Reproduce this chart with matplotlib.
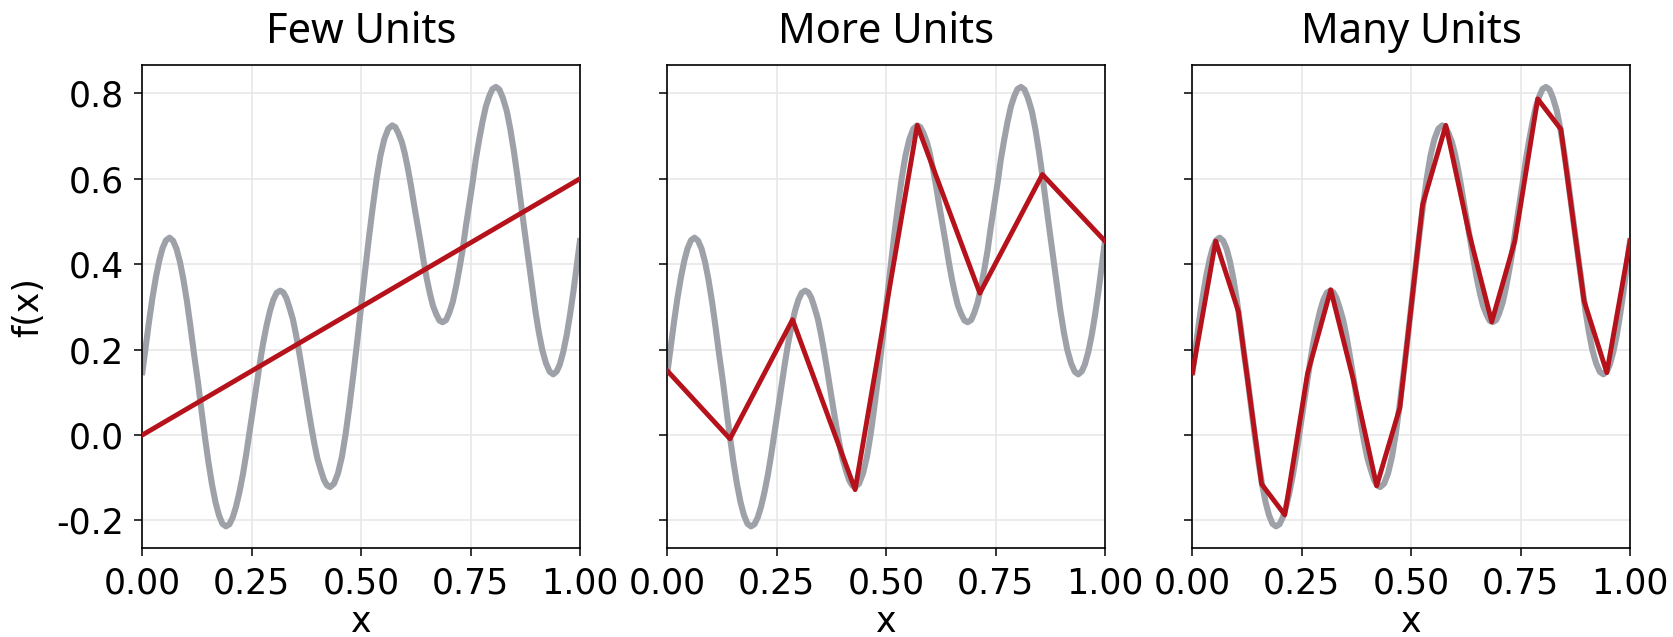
import matplotlib
matplotlib.use('Agg')
import matplotlib.pyplot as plt

plt.rcParams['axes.unicode_minus'] = False
plt.rcParams['font.family'] = 'DejaVu Sans'

# target function, sampled along x
x_true = [0.0, 0.008, 0.015, 0.023, 0.031, 0.039, 0.046, 0.054, 0.062,
          0.070, 0.078, 0.086, 0.094, 0.102, 0.110, 0.118, 0.127,
          0.135, 0.143, 0.151, 0.159, 0.167, 0.175, 0.183, 0.191,
          0.199, 0.2065, 0.214, 0.222, 0.230, 0.2375, 0.245, 0.253,
          0.261, 0.2685, 0.276, 0.284, 0.292, 0.2995, 0.307, 0.315,
          0.322, 0.329, 0.336, 0.344, 0.351, 0.358, 0.365, 0.372,
          0.379, 0.386, 0.393, 0.400, 0.408, 0.415, 0.422, 0.429,
          0.438, 0.447, 0.456, 0.4645, 0.473, 0.482, 0.491, 0.500,
          0.509, 0.518, 0.527, 0.5355, 0.544, 0.553, 0.562, 0.571,
          0.578, 0.585, 0.593, 0.600, 0.607, 0.614, 0.621, 0.6285,
          0.636, 0.643, 0.650, 0.657, 0.664, 0.672, 0.679, 0.686,
          0.694, 0.701, 0.709, 0.7165, 0.724, 0.732, 0.739, 0.747,
          0.755, 0.762, 0.770, 0.7775, 0.785, 0.793, 0.800, 0.808,
          0.816, 0.824, 0.833, 0.841, 0.849, 0.857, 0.865, 0.8735,
          0.882, 0.890, 0.898, 0.906, 0.914, 0.9225, 0.931, 0.939,
          0.947, 0.954, 0.962, 0.970, 0.977, 0.985, 0.992, 1.0]
y_true = [0.147, 0.210, 0.264, 0.321, 0.370, 0.410, 0.437, 0.456, 0.462,
          0.455, 0.436, 0.405, 0.363, 0.312, 0.253, 0.190, 0.124,
          0.058, -0.005, -0.064, -0.115, -0.157, -0.188, -0.208, -0.214,
          -0.209, -0.193, -0.168, -0.133, -0.091, -0.044, 0.008, 0.062,
          0.116, 0.168, 0.215, 0.257, 0.292, 0.317, 0.333, 0.338,
          0.334, 0.321, 0.299, 0.271, 0.236, 0.196, 0.153, 0.108,
          0.063, 0.020, -0.020, -0.055, -0.083, -0.105, -0.118, -0.122,
          -0.114, -0.090, -0.051, 0.002, 0.066, 0.140, 0.219, 0.302,
          0.384, 0.464, 0.537, 0.601, 0.654, 0.693, 0.717, 0.725,
          0.721, 0.707, 0.686, 0.658, 0.623, 0.583, 0.539, 0.495,
          0.450, 0.406, 0.366, 0.332, 0.303, 0.282, 0.268, 0.264,
          0.269, 0.285, 0.310, 0.345, 0.386, 0.434, 0.486, 0.540,
          0.593, 0.645, 0.693, 0.734, 0.769, 0.794, 0.810, 0.815,
          0.809, 0.789, 0.758, 0.716, 0.665, 0.607, 0.544, 0.478,
          0.413, 0.350, 0.292, 0.241, 0.199, 0.168, 0.148, 0.142,
          0.149, 0.165, 0.195, 0.235, 0.279, 0.335, 0.390, 0.454]

# piecewise-linear approximations with increasing number of units
x_few = [0.0, 1.0]
y_few = [0.0, 0.6]

x_more = [0.0, 0.143, 0.286, 0.429, 0.571, 0.714, 0.857, 1.0]
y_more = [0.150, -0.009, 0.270, -0.128, 0.725, 0.332, 0.610, 0.454]

x_many = [0.0, 0.053, 0.105, 0.158, 0.211, 0.263, 0.316, 0.368, 0.421, 0.474,
          0.526, 0.579, 0.632, 0.684, 0.737, 0.789, 0.842, 0.895, 0.947, 1.0]
y_many = [0.146, 0.454, 0.289, -0.115, -0.187, 0.144, 0.340, 0.128, -0.119, 0.064,
          0.539, 0.725, 0.473, 0.265, 0.455, 0.787, 0.716, 0.314, 0.146, 0.454]

titles = ['Few Units', 'More Units', 'Many Units']
fits = [(x_few, y_few), (x_more, y_more), (x_many, y_many)]

GRAY = '#9ea2a8'
RED = '#b5121b'

fig, axes = plt.subplots(1, 3, figsize=(16.73, 6.37), dpi=100, sharey=True)
fig.subplots_adjust(left=0.0851, right=0.9743, bottom=0.1392, top=0.898, wspace=0.2)

for ax, title, (fx, fy) in zip(axes, titles, fits):
    ax.plot(x_true, y_true, color=GRAY, lw=4.4, zorder=2)
    ax.plot(fx, fy, color=RED, lw=3.5, zorder=3)
    ax.set_xlim(0, 1)
    ax.grid(True, color='#e6e6e6', lw=1.1, zorder=0)
    ax.set_axisbelow(True)
    ax.set_title(title, fontsize=30, family='Noto Sans', pad=16)
    ax.set_xlabel('x', fontsize=25, labelpad=3)
    ax.tick_params(labelsize=25, length=6, width=1.1, pad=7)
    for s in ax.spines.values():
        s.set_linewidth(1.2)

axes[0].set_ylabel('f(x)', fontsize=25, labelpad=8)

plt.savefig('out.png')
